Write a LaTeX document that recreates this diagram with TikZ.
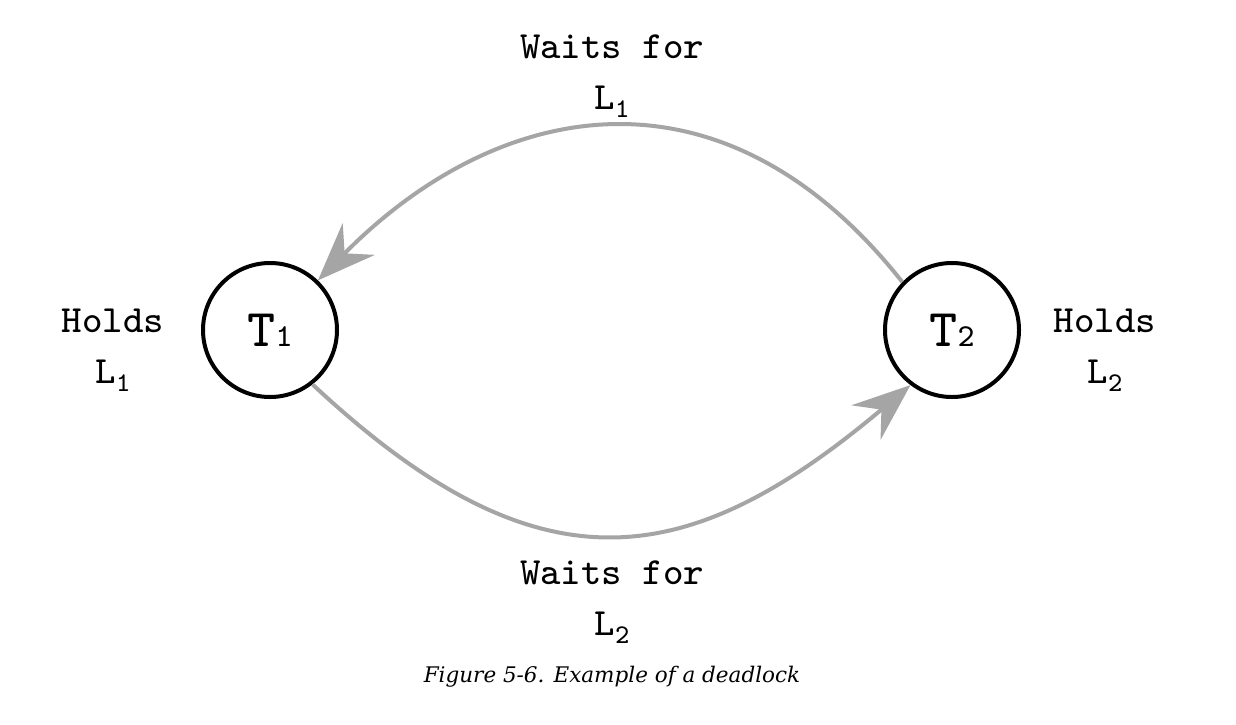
\documentclass[tikz,border=0pt]{standalone}
\usepackage{fontspec}
\usetikzlibrary{arrows.meta}
\newfontfamily\capfont{DejaVu Serif}
\newfontfamily\lmtt{lmmono8-regular.otf}
\newcommand{\lowsub}[1]{\raisebox{-0.22em}{\fontsize{27}{27}\selectfont #1}}
\definecolor{arrowgray}{RGB}{165,165,165}
\begin{document}
\begin{tikzpicture}[x=1pt,y=-1pt,
  txnode/.style={draw=black,line width=4pt,circle,minimum size=134pt,inner sep=0pt},
  lbl/.style={align=center,font=\lmtt\fontsize{38.5}{51}\selectfont,inner sep=0pt},
  waitarrow/.style={draw=arrowgray,line width=4pt,-{Stealth[length=58pt,width=45pt,inset=20pt]}}]
\useasboundingbox[fill=white] (0,0) rectangle (1236,724);
\node[txnode] (T1) at (270,330) {\lmtt{\fontsize{53}{53}\selectfont T}{\fontsize{32}{32}\selectfont 1}};
\node[txnode] (T2) at (952,330) {\lmtt{\fontsize{53}{53}\selectfont T}{\fontsize{32}{32}\selectfont 2}};
\node[lbl] (h1) at (113,350) {Holds\\L\lowsub{1}};
\node[lbl] (h2) at (1105,350) {Holds\\L\lowsub{2}};
\node[lbl] (w1) at (612,76) {Waits for\\L\lowsub{1}};
\node[lbl] (w2) at (612,602) {Waits for\\L\lowsub{2}};
\node[font=\capfont\itshape\fontsize{21.5}{26}\selectfont,inner sep=0pt] (cap) at (612,677) {Figure 5-6. Example of a deadlock};
\draw[waitarrow] (T2.136) .. controls (722,54) and (498,98) .. (T1.46);
\draw[waitarrow] (T1.-52) .. controls (537,594) and (685,575) .. (T2.-127);
\end{tikzpicture}
\end{document}
